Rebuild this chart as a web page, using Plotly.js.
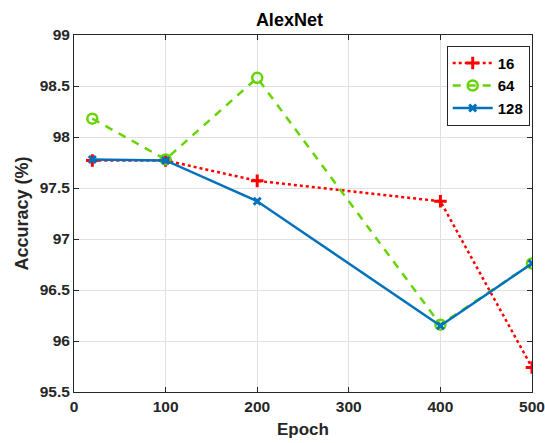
<!DOCTYPE html>
<html><head><meta charset="utf-8">
<script src="https://cdn.plot.ly/plotly-3.0.1.min.js"></script>
<style>html,body{margin:0;padding:0;background:#fff}#chart{width:545px;height:443px}</style>
</head><body><div id="chart"></div>
<script>
const epochs = [20, 100, 200, 400, 500];
const acc16 = [97.77, 97.77, 97.57, 97.37, 95.74];
const acc64 = [98.18, 97.78, 98.58, 96.16, 96.76];
const acc128 = [97.78, 97.77, 97.37, 96.15, 96.76];
const seriesNames = ['16', '64', '128'];
const xTicks = [0, 100, 200, 300, 400, 500];
const yTicks = [95.5, 96, 96.5, 97, 97.5, 98, 98.5, 99];

const font = {family: 'Liberation Sans, Arial, sans-serif', color: '#262626'};
const traces = [
  {x: epochs, y: acc16, name: seriesNames[0], mode: 'lines+markers',
   line: {color: '#ff0000', width: 2.5, dash: 'dot'},
   marker: {symbol: 'cross-thin', size: 9, line: {color: '#ff0000', width: 3}, color: '#ff0000'}},
  {x: epochs, y: acc64, name: seriesNames[1], mode: 'lines+markers',
   line: {color: '#66d400', width: 2.5, dash: '8px,7px'},
   marker: {symbol: 'circle-open', size: 10, line: {color: '#66d400', width: 2.5}, color: '#66d400'}},
  {x: epochs, y: acc128, name: seriesNames[2], mode: 'lines+markers',
   line: {color: '#0072bd', width: 2.5},
   marker: {symbol: 'x-thin', size: 7, line: {color: '#0072bd', width: 3}, color: '#0072bd'}}
];
const axisCommon = {
  showline: true, mirror: 'ticks', linecolor: '#262626', linewidth: 1,
  ticks: 'inside', ticklen: 5, tickcolor: '#262626',
  showgrid: true, gridcolor: '#e0e0e0', gridwidth: 1, zeroline: false,
  ticklabeloverflow: 'allow',
  tickfont: {family: font.family, size: 15.5, color: '#262626', weight: 'bold'}
};
const layout = {
  width: 545, height: 443,
  margin: {l: 74, r: 13, t: 35, b: 51},
  paper_bgcolor: '#fff', plot_bgcolor: '#fff',
  title: {text: '<b>AlexNet</b>', font: {family: font.family, size: 18, color: '#000'}, x: 0.531, xanchor: 'center', xref: 'container', y: 0.955, yanchor: 'middle'},
  xaxis: Object.assign({}, axisCommon, {range: [0, 500], tickvals: xTicks,
    title: {text: '<b>Epoch</b>', font: {family: font.family, size: 17, color: '#262626'}, standoff: 9}}),
  yaxis: Object.assign({}, axisCommon, {range: [95.5, 99], tickvals: yTicks, ticktext: yTicks.map(String),
    title: {text: '<b>Accuracy (%)</b>', font: {family: font.family, size: 18, color: '#262626'}, standoff: 6}}),
  legend: {x: 0.995, xanchor: 'right', y: 0.97, yanchor: 'top', bgcolor: '#fff', bordercolor: '#262626', borderwidth: 1,
    font: {family: font.family, size: 15, color: '#000', weight: 'bold'}, tracegroupgap: 0, itemwidth: 40},
  showlegend: true
};
Plotly.newPlot('chart', traces, layout, {displayModeBar: false, staticPlot: true});
</script></body></html>
